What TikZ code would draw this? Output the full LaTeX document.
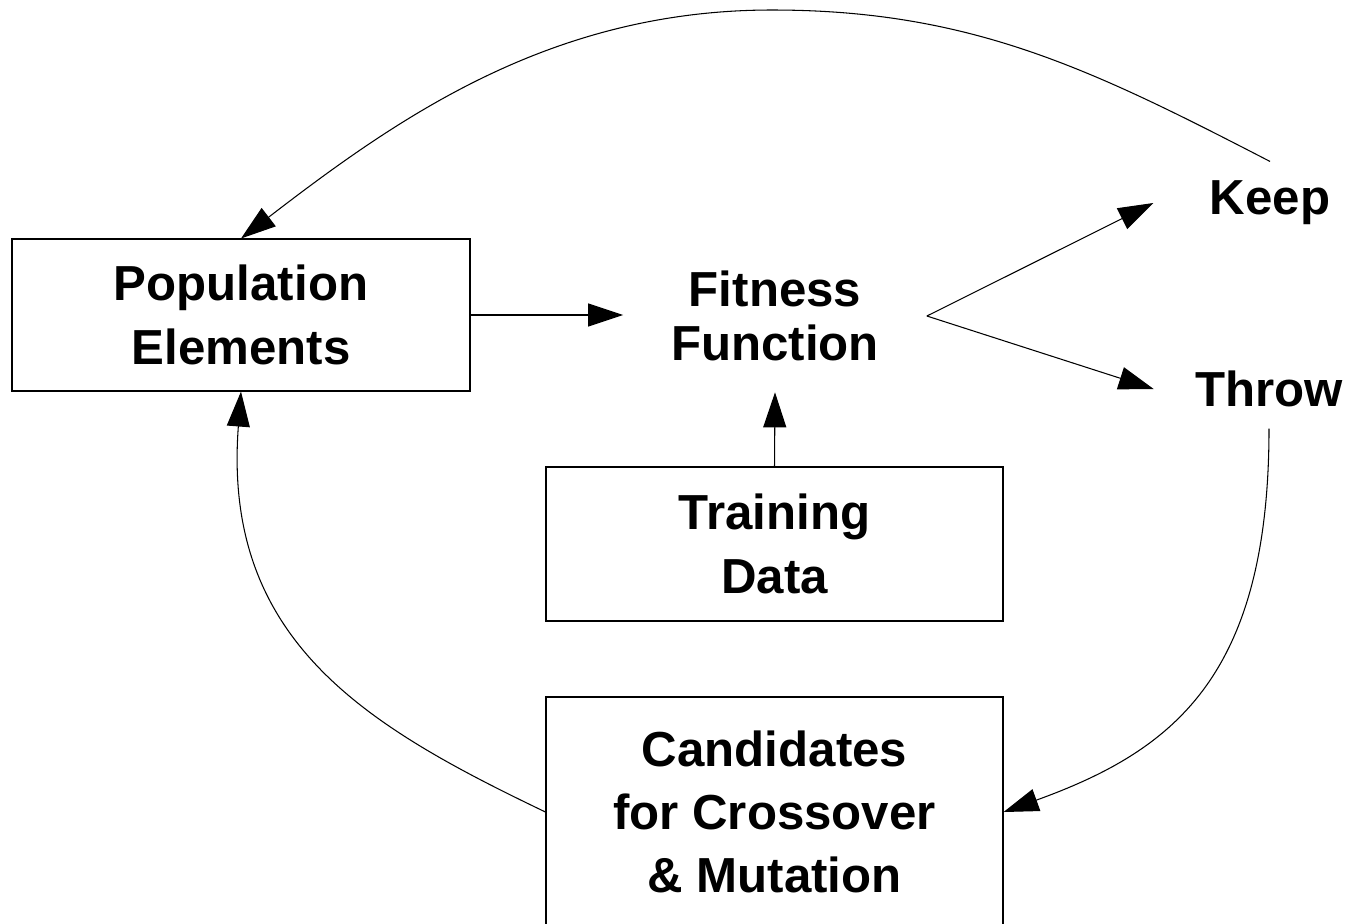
\documentclass[tikz,border=0pt]{standalone}
\usepackage{fontspec}
\setmainfont{Liberation Sans}
\usetikzlibrary{arrows.meta}

\begin{document}
\begin{tikzpicture}[
             > = {Triangle[length=7mm,width=4.6mm]},
    line width = 0.6pt,
   block/.style = {draw, align=center, inner sep=0pt,
                  font=\fontsize{28}{36}\selectfont\bfseries},
    word/.style = {align=center, font=\fontsize{28}{31}\selectfont\bfseries},
    link/.style = {->}
                    ]
\useasboundingbox (0,0) rectangle (27.06,-18.46);
% boxes
\node[block, minimum width=9.16cm, minimum height=3.04cm] (pop)   at (4.82,-6.30)  {Population\\Elements};
\node[block, minimum width=9.14cm, minimum height=3.08cm] (train) at (15.49,-10.88) {Training\\Data};
\node[block, minimum width=9.14cm, minimum height=4.60cm] (cand)  at (15.49,-16.24) {Candidates\\for Crossover\\\& Mutation};
% plain texts
\node[word, inner xsep=0.95cm, inner ysep=0.61cm] (fit)   at (15.50,-6.32) {Fitness\\Function};
\node[word, inner xsep=1.12cm, inner ysep=0.38cm] (keep)  at (25.40,-4.06) {Keep};
\node[word, inner xsep=0.82cm, inner ysep=0.42cm] (throw) at (25.38,-7.78) {Throw};
% straight arrows
\draw[link] (pop.east) -- (pop.east -| fit.west);
\draw[link] (train.north) -- (fit.south);
\draw[link] (fit.east) -- (keep.west);
\draw[link] (fit.east) -- (throw.west);
% loops back
\draw[link] (keep.north) .. controls (21.86,-1.40) and (19.44,-0.20) .. (15.44,-0.20)
                         .. controls (11.04,-0.20) and (8.00,-2.32) .. (pop.north);
\draw[link] (throw.south) .. controls (25.38,-13.56) and (23.44,-15.02) .. (cand.east);
\draw[link] (cand.west) .. controls (7.32,-14.52) and (4.44,-12.82) .. (pop.south);
\end{tikzpicture}
\end{document}
